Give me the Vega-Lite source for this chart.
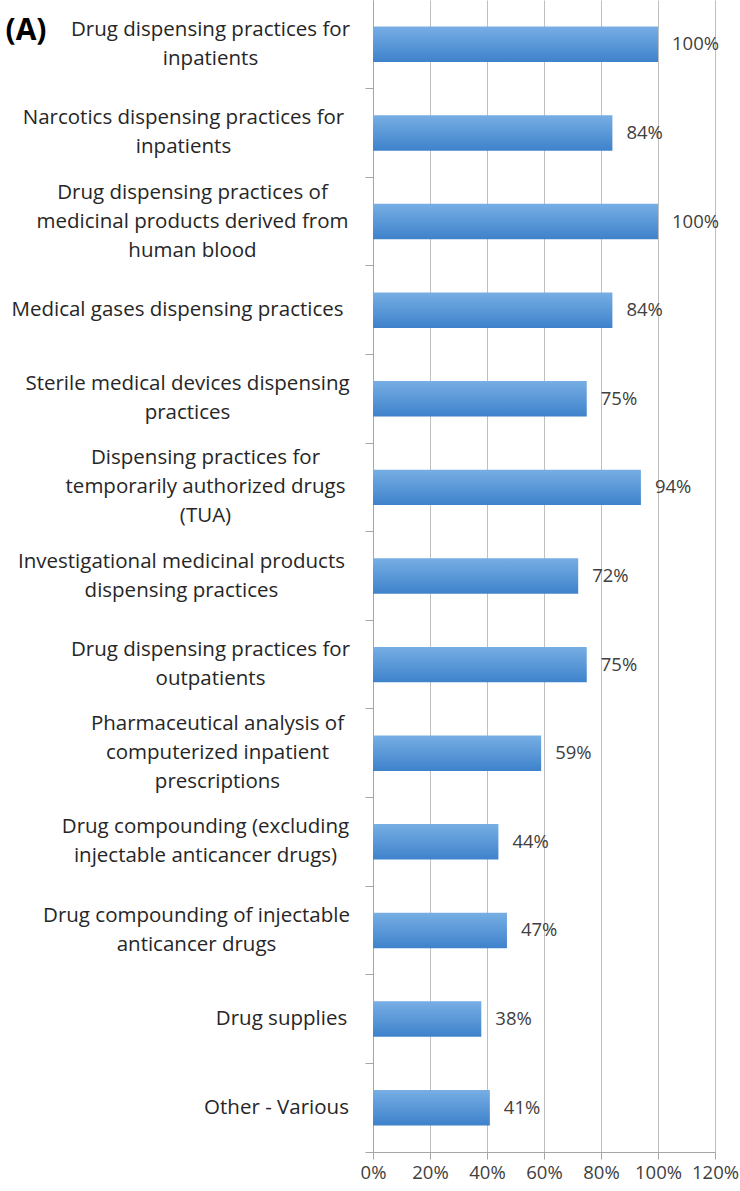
{
  "$schema": "https://vega.github.io/schema/vega-lite/v6.json",
  "autosize": "none",
  "padding": {"left": 373, "top": 0, "right": 25, "bottom": 39},
  "width": 342,
  "height": 1152,
  "background": "white",
  "config": {"view": {"stroke": null}, "font": "Open Sans"},
  "data": {
    "values": [
      {"activity": "Drug dispensing practices for\ninpatients", "share": 1.00},
      {"activity": "Narcotics dispensing practices for\ninpatients", "share": 0.84},
      {"activity": "Drug dispensing practices of\nmedicinal products derived from\nhuman blood", "share": 1.00},
      {"activity": "Medical gases dispensing practices", "share": 0.84},
      {"activity": "Sterile medical devices dispensing\npractices", "share": 0.75},
      {"activity": "Dispensing practices for\ntemporarily authorized drugs\n(TUA)", "share": 0.94},
      {"activity": "Investigational medicinal products\ndispensing practices", "share": 0.72},
      {"activity": "Drug dispensing practices for\noutpatients", "share": 0.75},
      {"activity": "Pharmaceutical analysis of\ncomputerized inpatient\nprescriptions", "share": 0.59},
      {"activity": "Drug compounding (excluding\ninjectable anticancer drugs)", "share": 0.44},
      {"activity": "Drug compounding of injectable\nanticancer drugs", "share": 0.47},
      {"activity": "Drug supplies", "share": 0.38},
      {"activity": "Other - Various", "share": 0.41}
    ]
  },
  "encoding": {
    "y": {
      "field": "activity",
      "type": "nominal",
      "sort": null,
      "scale": {"paddingInner": 0.6, "paddingOuter": 0.3},
      "axis": {
        "title": "(A)",
        "titleAngle": 0,
        "titleX": -368,
        "titleY": 30,
        "titleAlign": "left",
        "titleBaseline": "middle",
        "titleFontSize": 30,
        "titleFontWeight": "bold",
        "titleColor": "#000000",
        "titleFont": "Open Sans",
        "labelExpr": "split(datum.label, '\\n')",
        "labelAlign": "center",
        "labelBaseline": "middle",
        "labelLineHeight": 29,
        "labelFontSize": 20.5,
        "labelColor": "#262626",
        "labelLimit": 400,
        "labelPadding": {
          "condition": [
            {"test": "datum && indexof(datum.value, 'Narcotics') >= 0", "value": 182},
            {"test": "datum && indexof(datum.value, 'medicinal products derived') >= 0", "value": 173},
            {"test": "datum && indexof(datum.value, 'Medical gases') >= 0", "value": 188},
            {"test": "datum && indexof(datum.value, 'Sterile') >= 0", "value": 178},
            {"test": "datum && indexof(datum.value, 'temporarily') >= 0", "value": 160},
            {"test": "datum && indexof(datum.value, 'Investigational') >= 0", "value": 184},
            {"test": "datum && indexof(datum.value, 'Pharmaceutical') >= 0", "value": 148},
            {"test": "datum && indexof(datum.value, 'excluding') >= 0", "value": 160},
            {"test": "datum && indexof(datum.value, 'of injectable') >= 0", "value": 169},
            {"test": "datum && indexof(datum.value, 'Drug supplies') >= 0", "value": 84},
            {"test": "datum && indexof(datum.value, 'Other') >= 0", "value": 89}
          ],
          "value": 155
        },
        "labelOffset": {
          "condition": [
            {"test": "length(split(datum.value, '\\n')) == 3", "value": -29},
            {"test": "length(split(datum.value, '\\n')) == 2", "value": -14.5}
          ],
          "value": 0
        },
        "bandPosition": 1.75,
        "tickSize": 8,
        "tickColor": "#a6a6a6",
        "domainColor": "#a6a6a6"
      }
    },
    "x": {
      "field": "share",
      "type": "quantitative",
      "scale": {"domain": [0, 1.2], "nice": false},
      "axis": {
        "title": null,
        "values": [0, 0.2, 0.4, 0.6, 0.8, 1.0, 1.2],
        "format": ".0%",
        "labelFontSize": 18.5,
        "labelColor": "#404040",
        "labelPadding": 4,
        "labelFlush": false,
        "tickSize": 7,
        "tickColor": "#a6a6a6",
        "domainColor": "#a6a6a6",
        "gridColor": "#bfbfbf",
        "gridWidth": 1
      }
    }
  },
  "layer": [
    {
      "mark": {
        "type": "bar",
        "color": {
          "gradient": "linear",
          "x1": 0, "y1": 0, "x2": 0, "y2": 1,
          "stops": [
            {"offset": 0, "color": "#77aee4"},
            {"offset": 1, "color": "#3e82cb"}
          ]
        }
      }
    },
    {
      "mark": {"type": "text", "align": "left", "baseline": "middle", "dx": 14, "fontSize": 18.5, "color": "#404040"},
      "encoding": {
        "text": {"field": "share", "type": "quantitative", "format": ".0%"}
      }
    }
  ]
}
